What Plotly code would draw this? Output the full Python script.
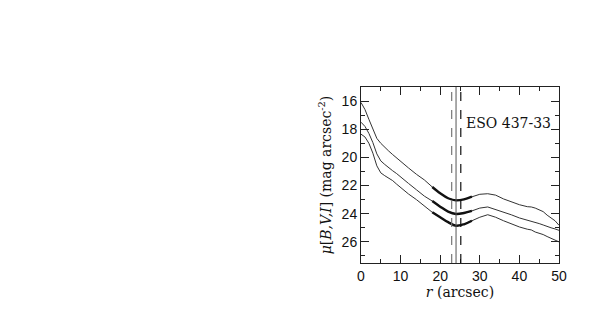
import plotly.graph_objects as go

# radius (arcsec)
r = [0, 1, 2, 3, 4, 5, 6, 7, 8, 9, 10, 12, 14, 16, 18, 20, 22, 24, 26, 28,
     30, 32, 34, 36, 38, 40, 42, 43, 44, 45, 46, 47, 48, 49, 50]

# surface brightness profiles (mag arcsec^-2)
mu_i = [16.1, 16.6, 17.3, 18.0, 18.65, 19.0, 19.3, 19.55, 19.8, 20.05, 20.3, 20.75, 21.2, 21.6, 22.1, 22.55, 22.9, 23.05, 22.98, 22.78,
        22.62, 22.58, 22.68, 22.95, 23.15, 23.36, 23.5, 23.52, 23.6, 23.72, 23.85, 24.1, 24.28, 24.5, 24.82]
mu_v = [17.5, 17.8, 18.3, 18.95, 19.75, 20.25, 20.5, 20.75, 20.95, 21.15, 21.4, 21.85, 22.3, 22.75, 23.1, 23.5, 23.85, 24.02, 23.95, 23.8,
        23.6, 23.52, 23.7, 23.9, 24.08, 24.3, 24.45, 24.5, 24.62, 24.7, 24.8, 24.92, 25.0, 25.08, 25.18]
mu_b = [18.35, 18.55, 19.0, 19.7, 20.6, 21.1, 21.3, 21.45, 21.65, 21.9, 22.15, 22.6, 23.0, 23.45, 23.9, 24.25, 24.6, 24.85, 24.75, 24.5,
        24.25, 24.07, 24.25, 24.5, 24.72, 24.94, 25.1, 25.15, 25.3, 25.38, 25.48, 25.62, 25.75, 25.85, 26.0]

# fitted range drawn thicker
fit_range = (17.5, 29)

# break radius and its error bounds
r_break = 24.0
r_break_lo = 22.9
r_break_hi = 25.2

fig = go.Figure()

for mu in [mu_i, mu_v, mu_b]:
    fig.add_trace(go.Scatter(x=r, y=mu, mode='lines',
                             line=dict(color='#333', width=1), showlegend=False))
    rf = [x for x in r if fit_range[0] <= x <= fit_range[1]]
    mf = [m for x, m in zip(r, mu) if fit_range[0] <= x <= fit_range[1]]
    fig.add_trace(go.Scatter(x=rf, y=mf, mode='lines',
                             line=dict(color='#111', width=2.4, shape='spline'), showlegend=False))

fig.add_vline(x=r_break_lo, line=dict(color='#777', width=1.2, dash='dash'))
fig.add_vline(x=r_break, line=dict(color='#555', width=1))
fig.add_vline(x=r_break_hi, line=dict(color='#111', width=1.2, dash='dash'))

title_font = dict(family='DejaVu Serif', size=14, color='#111')

fig.add_annotation(x=0.97, y=0.85, xref='paper', yref='paper', text='ESO 437-33',
                   showarrow=False, xanchor='right', font=title_font)

axis_common = dict(showline=True, linecolor='#222', linewidth=1, mirror='ticks',
                   ticks='inside', ticklen=8, tickcolor='#222', showgrid=False, zeroline=False,
                   automargin=False,
                   tickfont=dict(family='Liberation Sans', size=14, color='#111'))

fig.update_xaxes(range=[0, 50], dtick=10, tick0=0,
                 minor=dict(ticks='inside', ticklen=4, dtick=5, tickcolor='#222'),
                 title=dict(text='<i>r</i> (arcsec)', standoff=0, font=title_font),
                 **axis_common)
fig.update_yaxes(range=[27.5, 15], dtick=2, tick0=16,
                 minor=dict(ticks='inside', ticklen=4, dtick=1, tickcolor='#222'),
                 title=dict(text='<i>μ</i>[<i>B,V,I</i>] (mag arcsec<sup>-2</sup>)', standoff=6,
                            font=title_font),
                 **axis_common)

fig.update_layout(width=598, height=318, autosize=False,
                  margin=dict(l=353, r=47, t=79, b=63),
                  paper_bgcolor='white', plot_bgcolor='white')

fig.write_html("out.html")
